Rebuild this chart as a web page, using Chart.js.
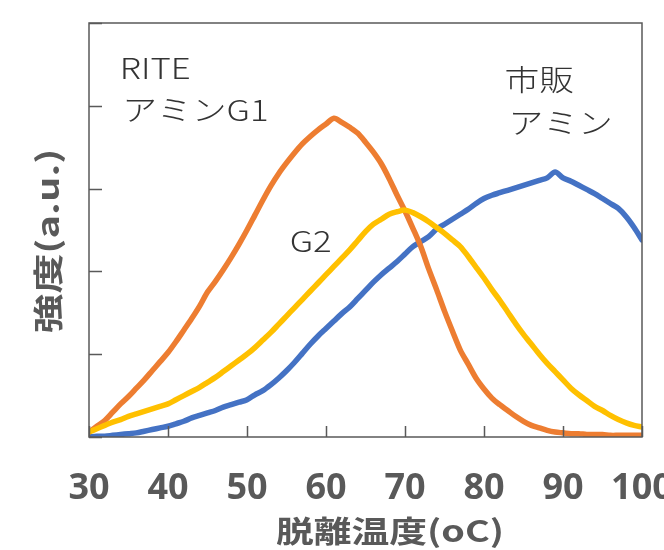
<!DOCTYPE html>
<html>
<head>
<meta charset="utf-8">
<script src="https://cdn.jsdelivr.net/npm/chart.js@4.4.1/dist/chart.umd.min.js"></script>
<style>
  html, body { margin: 0; padding: 0; background: #fff; }
  #wrap { width: 664px; height: 550px; }
</style>
</head>
<body>
<div id="wrap"><canvas id="myChart" width="664" height="550"></canvas></div>
<script>

/* =====================
  data
===================== */

var temps = [30,31,32,33,34,35,36,37,38,39,40,41,42,43,44,45,46,47,48,49,50,
  51,52,53,54,55,56,57,58,59,60,61,62,63,64,65,66,67,68,69,70,
  71,72,73,74,75,76,77,78,79,80,81,82,83,84,85,86,87,88,89,90,
  91,92,93,94,95,96,97,98,99,100];

// RITE アミンG1 (orange)
var ritG1 = [0.06,0.13,0.20,0.30,0.40,0.49,0.59,0.69,0.80,0.91,1.02,
  1.15,1.29,1.43,1.58,1.75,1.88,2.02,2.17,2.33,2.50,
  2.68,2.86,3.03,3.18,3.31,3.43,3.54,3.63,3.71,3.78,
  3.85,3.80,3.74,3.67,3.56,3.44,3.30,3.12,2.92,2.73,
  2.52,2.30,2.03,1.78,1.52,1.28,1.05,0.88,0.71,0.58,
  0.47,0.39,0.32,0.25,0.19,0.14,0.11,0.08,0.06,0.05,
  0.04,0.04,0.03,0.03,0.03,0.02,0.02,0.02,0.02,0.02];

// G2 (yellow)
var ritG2 = [0.06,0.10,0.14,0.18,0.21,0.25,0.28,0.31,0.34,0.37,0.40,
  0.45,0.50,0.55,0.60,0.66,0.72,0.79,0.86,0.93,1.00,
  1.08,1.17,1.26,1.36,1.46,1.56,1.66,1.76,1.86,1.96,
  2.06,2.16,2.26,2.37,2.48,2.57,2.63,2.69,2.72,2.74,
  2.71,2.66,2.60,2.53,2.46,2.38,2.30,2.18,2.05,1.92,
  1.78,1.65,1.51,1.37,1.24,1.12,1.00,0.89,0.79,0.69,
  0.59,0.51,0.44,0.37,0.32,0.26,0.21,0.17,0.14,0.12];

// 市販アミン (blue)
var shihan = [0.00,0.01,0.01,0.02,0.03,0.04,0.05,0.07,0.09,0.11,0.13,
  0.16,0.19,0.23,0.26,0.29,0.32,0.36,0.39,0.42,0.45,
  0.51,0.56,0.63,0.71,0.80,0.90,1.01,1.12,1.22,1.31,
  1.40,1.49,1.57,1.67,1.77,1.87,1.96,2.04,2.12,2.21,
  2.30,2.36,2.42,2.51,2.57,2.63,2.69,2.75,2.82,2.88,
  2.92,2.95,2.98,3.01,3.04,3.07,3.10,3.13,3.20,3.13,
  3.09,3.04,2.99,2.94,2.88,2.82,2.76,2.66,2.53,2.38];

var xTicks = [30,40,50,60,70,80,90,100];
var yTicks = [0,1,2,3,4,5];

var xTitle = '脱離温度(oC)';
var yTitle = '強度(a.u.)';

// labels in the plot: [text, x(temp), y(value)]
var notes = [
  ['RITE', 33.9, 4.46],
  ['アミンG1', 34.2, 3.95],
  ['G2', 55.4, 2.37],
  ['市販', 82.6, 4.31],
  ['アミン', 83.1, 3.79]
];

/* =====================
  helpers
===================== */

var toXY = function(ys) {
  return temps.map(function(t, i) { return { x: t, y: ys[i] }; });
};

var gray = '#595959';

// draw text stretched sideways (the original titles are wide)
var wideText = function(ctx, text, x, y, font, sx, align) {
  ctx.save();
  ctx.font = font;
  ctx.textBaseline = 'middle';
  ctx.textAlign = align || 'left';
  ctx.translate(x, y);
  ctx.scale(sx, 1);
  ctx.fillText(text, 0, 0);
  ctx.restore();
};

var framePlugin = {
  id: 'frame',
  afterDatasetsDraw: function(chart) {
    var ctx = chart.ctx;
    var a = chart.chartArea;
    var xs = chart.scales.x;
    var ys = chart.scales.y;

    ctx.save();
    ctx.strokeStyle = gray;
    ctx.lineWidth = 1.5;
    ctx.strokeRect(a.left, a.top, a.right - a.left, a.bottom - a.top);

    // tick marks point inward
    ctx.beginPath();
    xTicks.forEach(function(v) {
      var px = Math.round(xs.getPixelForValue(v)) + 0.5;
      ctx.moveTo(px, a.bottom);
      ctx.lineTo(px, a.bottom - 11);
    });
    yTicks.forEach(function(v) {
      var py = Math.round(ys.getPixelForValue(v)) + 0.5;
      ctx.moveTo(a.left, py);
      ctx.lineTo(a.left + 13, py);
    });
    ctx.stroke();

    // notes
    ctx.fillStyle = '#333333';
    notes.forEach(function(n) {
      wideText(ctx, n[0], xs.getPixelForValue(n[1]), ys.getPixelForValue(n[2]),
        '300 29px "Noto Sans CJK JP"', 1.2);
    });

    // axis titles
    ctx.fillStyle = gray;
    wideText(ctx, xTitle, 390, 531, 'bold 30px "Noto Sans CJK JP"', 1.26, 'center');
    ctx.save();
    ctx.translate(48, 241);
    ctx.rotate(-Math.PI / 2);
    wideText(ctx, yTitle, 0, 0, 'bold 30px "Noto Sans CJK JP"', 1.33, 'center');
    ctx.restore();
    ctx.restore();
  }
};

/* =====================
  chart
===================== */

var config = {
  type: 'line',
  data: {
    datasets: [{
      label: 'G2',
      data: toXY(ritG2),
      borderColor: '#FFC000',
      backgroundColor: '#FFC000'
    }, {
      label: 'RITE アミンG1',
      data: toXY(ritG1),
      borderColor: '#ED7D31',
      backgroundColor: '#ED7D31'
    }, {
      label: '市販アミン',
      data: toXY(shihan),
      borderColor: '#4472C4',
      backgroundColor: '#4472C4'
    }]
  },
  options: {
    responsive: false,
    animation: false,
    layout: { padding: { top: 23, right: 22, left: 0, bottom: 0 } },
    elements: {
      line: { borderWidth: 5.5, tension: 0.3, borderJoinStyle: 'round', borderCapStyle: 'round' },
      point: { radius: 0 }
    },
    plugins: {
      legend: { display: false },
      tooltip: { enabled: false }
    },
    scales: {
      x: {
        type: 'linear',
        min: 30,
        max: 100,
        afterBuildTicks: function(scale) {
          scale.ticks = xTicks.map(function(v) { return { value: v }; });
        },
        afterFit: function(scale) {
          scale.height = 113;
          scale.paddingLeft = 0;
          scale.paddingRight = 0;
        },
        grid: { display: false, drawTicks: false },
        border: { display: false },
        ticks: {
          color: gray,
          padding: 30,
          maxRotation: 0,
          autoSkip: false,
          font: { family: '"Open Sans"', size: 36, weight: 'bold' }
        }
      },
      y: {
        min: 0,
        max: 5,
        afterFit: function(scale) {
          scale.width = 89;
        },
        grid: { display: false, drawTicks: false },
        border: { display: false },
        ticks: { display: false, stepSize: 1 }
      }
    }
  },
  plugins: [framePlugin]
};

var can = document.getElementById('myChart');
var ctx = can.getContext('2d');
var myChart = new Chart(ctx, config);

</script>
</body>
</html>
